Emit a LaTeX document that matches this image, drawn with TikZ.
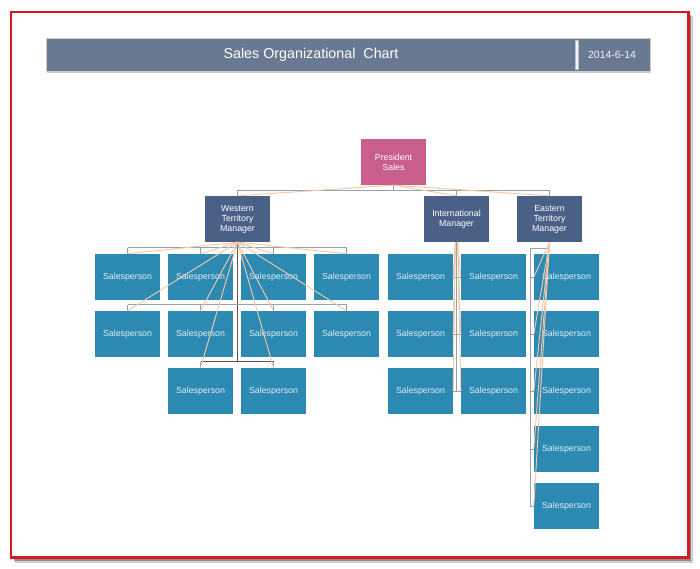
\documentclass[tikz,border=0pt]{standalone}
\usepackage{fontspec}
\setmainfont{Liberation Sans}
\usetikzlibrary{shadows}
\definecolor{borderred}{RGB}{214,24,32}
\definecolor{barfill}{RGB}{104,121,146}
\definecolor{mgrfill}{RGB}{74,96,134}
\definecolor{presfill}{RGB}{201,94,138}
\definecolor{spfill}{RGB}{43,137,178}
\definecolor{sptext}{RGB}{222,238,246}
\definecolor{conngray}{RGB}{150,160,176}
\definecolor{peach}{RGB}{242,200,170}
\definecolor{darkconn}{RGB}{110,80,70}
\tikzset{
  box/.style={minimum width=65pt, minimum height=46pt, inner sep=0pt, align=center,
    font=\fontsize{8.8}{10}\selectfont},
  spbox/.style={box, fill=spfill, text=sptext},
  mgrbox/.style={box, fill=mgrfill, text=white},
  presbox/.style={box, fill=presfill, text=white},
  conn/.style={draw=conngray, line width=0.9pt},
  peachline/.style={draw=peach, line width=0.95pt},
}
\begin{document}
\begin{tikzpicture}[x=1pt,y=-1pt]
\useasboundingbox (0,0) rectangle (700,569);
\fill[white] (0,0) rectangle (700,569);
% page border with shadow
\fill[black!55, opacity=0.35] (15,16) rectangle (692.5,562.5);
\fill[black!70, opacity=0.5] (14,15) rectangle (691,561);
\filldraw[fill=white, draw=borderred, line width=2.6pt] (11,12) rectangle (688.5,557.5);
% title bar
\fill[black!20] (47,40) rectangle (651,73);
\node[draw=black!20, line width=0.6pt, fill=barfill, minimum width=604pt, minimum height=33pt, inner sep=0pt, anchor=north west] (bar) at (46,38.5) {};
\node[text=white, font=\fontsize{14.3}{16}\selectfont] (title) at (311,55) {Sales Organizational\ \ Chart};
\node[fill=white!92!barfill, draw=black!25, line width=0.3pt, minimum width=3pt, minimum height=29pt, inner sep=0pt] (div) at (576.5,55) {};
\node[text=white!92!barfill, font=\fontsize{10.5}{12}\selectfont] (date) at (612,55) {2014-6-14};

% nodes
\node[presbox] (pres) at (393.5,162) {President\\Sales};
\node[mgrbox] (wm) at (237.5,219) {Western\\Territory\\Manager};
\node[mgrbox] (im) at (456.5,219) {International\\Manager};
\node[mgrbox] (em) at (549.5,219) {Eastern\\Territory\\Manager};

% gray elbow connectors (behind boxes)
\draw[conn] (pres.south) -- ++(0,5) -| (wm.north);
\draw[conn] (pres.south) -- ++(0,5) -| (im.north);
\draw[conn] (pres.south) -- ++(0,5) -| (em.north);

\foreach \n/\x/\y in {w11/127.5/277, w12/200.5/277, w13/273.5/277, w14/346.5/277,
                      w21/127.5/334, w22/200.5/334, w23/273.5/334, w24/346.5/334,
                      w32/200.5/391, w33/273.5/391,
                      i11/420.5/277, i12/493.5/277,
                      i21/420.5/334, i22/493.5/334,
                      i31/420.5/391, i32/493.5/391,
                      e1/566.5/277, e2/566.5/334, e3/566.5/391, e4/566.5/449, e5/566.5/506}
  \node[spbox] (\n) at (\x,\y) {Salesperson};

% Western connectors
\draw[darkconn, line width=0.9pt] (wm.south) -- ([yshift=6pt]w33.north -| wm.south);
\draw[conn] ([yshift=6pt]w11.north) -- ([yshift=6pt]w14.north);
\draw[conn] ([yshift=6pt]w21.north) -- ([yshift=6pt]w24.north);
\draw[darkconn, line width=0.9pt] ([yshift=6pt]w32.north) -- ([yshift=6pt]w33.north);
\foreach \n in {w11,w12,w13,w14,w21,w22,w23,w24,w32,w33}
  \draw[conn] ([yshift=6pt]\n.north) -- (\n.north);

% International connectors
\draw[conn] (im.south) -- (im.south |- i31.east);
\foreach \a/\b in {i11/i12, i21/i22, i31/i32}
  \draw[conn] (\a.east) -- (\b.west);

% Eastern connectors
\draw[conn] (em.south) -- ++(0,6) -| ([xshift=-3.5pt]e5.west) -- (e5.west);
\foreach \n in {e1,e2,e3,e4}
  \draw[conn] ([xshift=-3.5pt]\n.west) -- (\n.west);

% peach straight connectors drawn over the boxes
\foreach \m in {wm,im,em}
  \draw[peachline] (pres.south) -- (\m.north);
\foreach \n in {w11,w12,w13,w14,w21,w22,w23,w24,w32,w33}
  \draw[peachline] (wm.south) -- (\n.north);
\foreach \n in {i11,i21,i31}
  \draw[peachline] ([xshift=-1.2pt]im.south) -- (\n.east);
\foreach \n in {i12,i22,i32}
  \draw[peachline] ([xshift=1.2pt]im.south) -- (\n.west);
\foreach \n in {e1,e2,e3,e4,e5}
  \draw[peachline] (em.south) -- (\n.west);
\end{tikzpicture}
\end{document}
